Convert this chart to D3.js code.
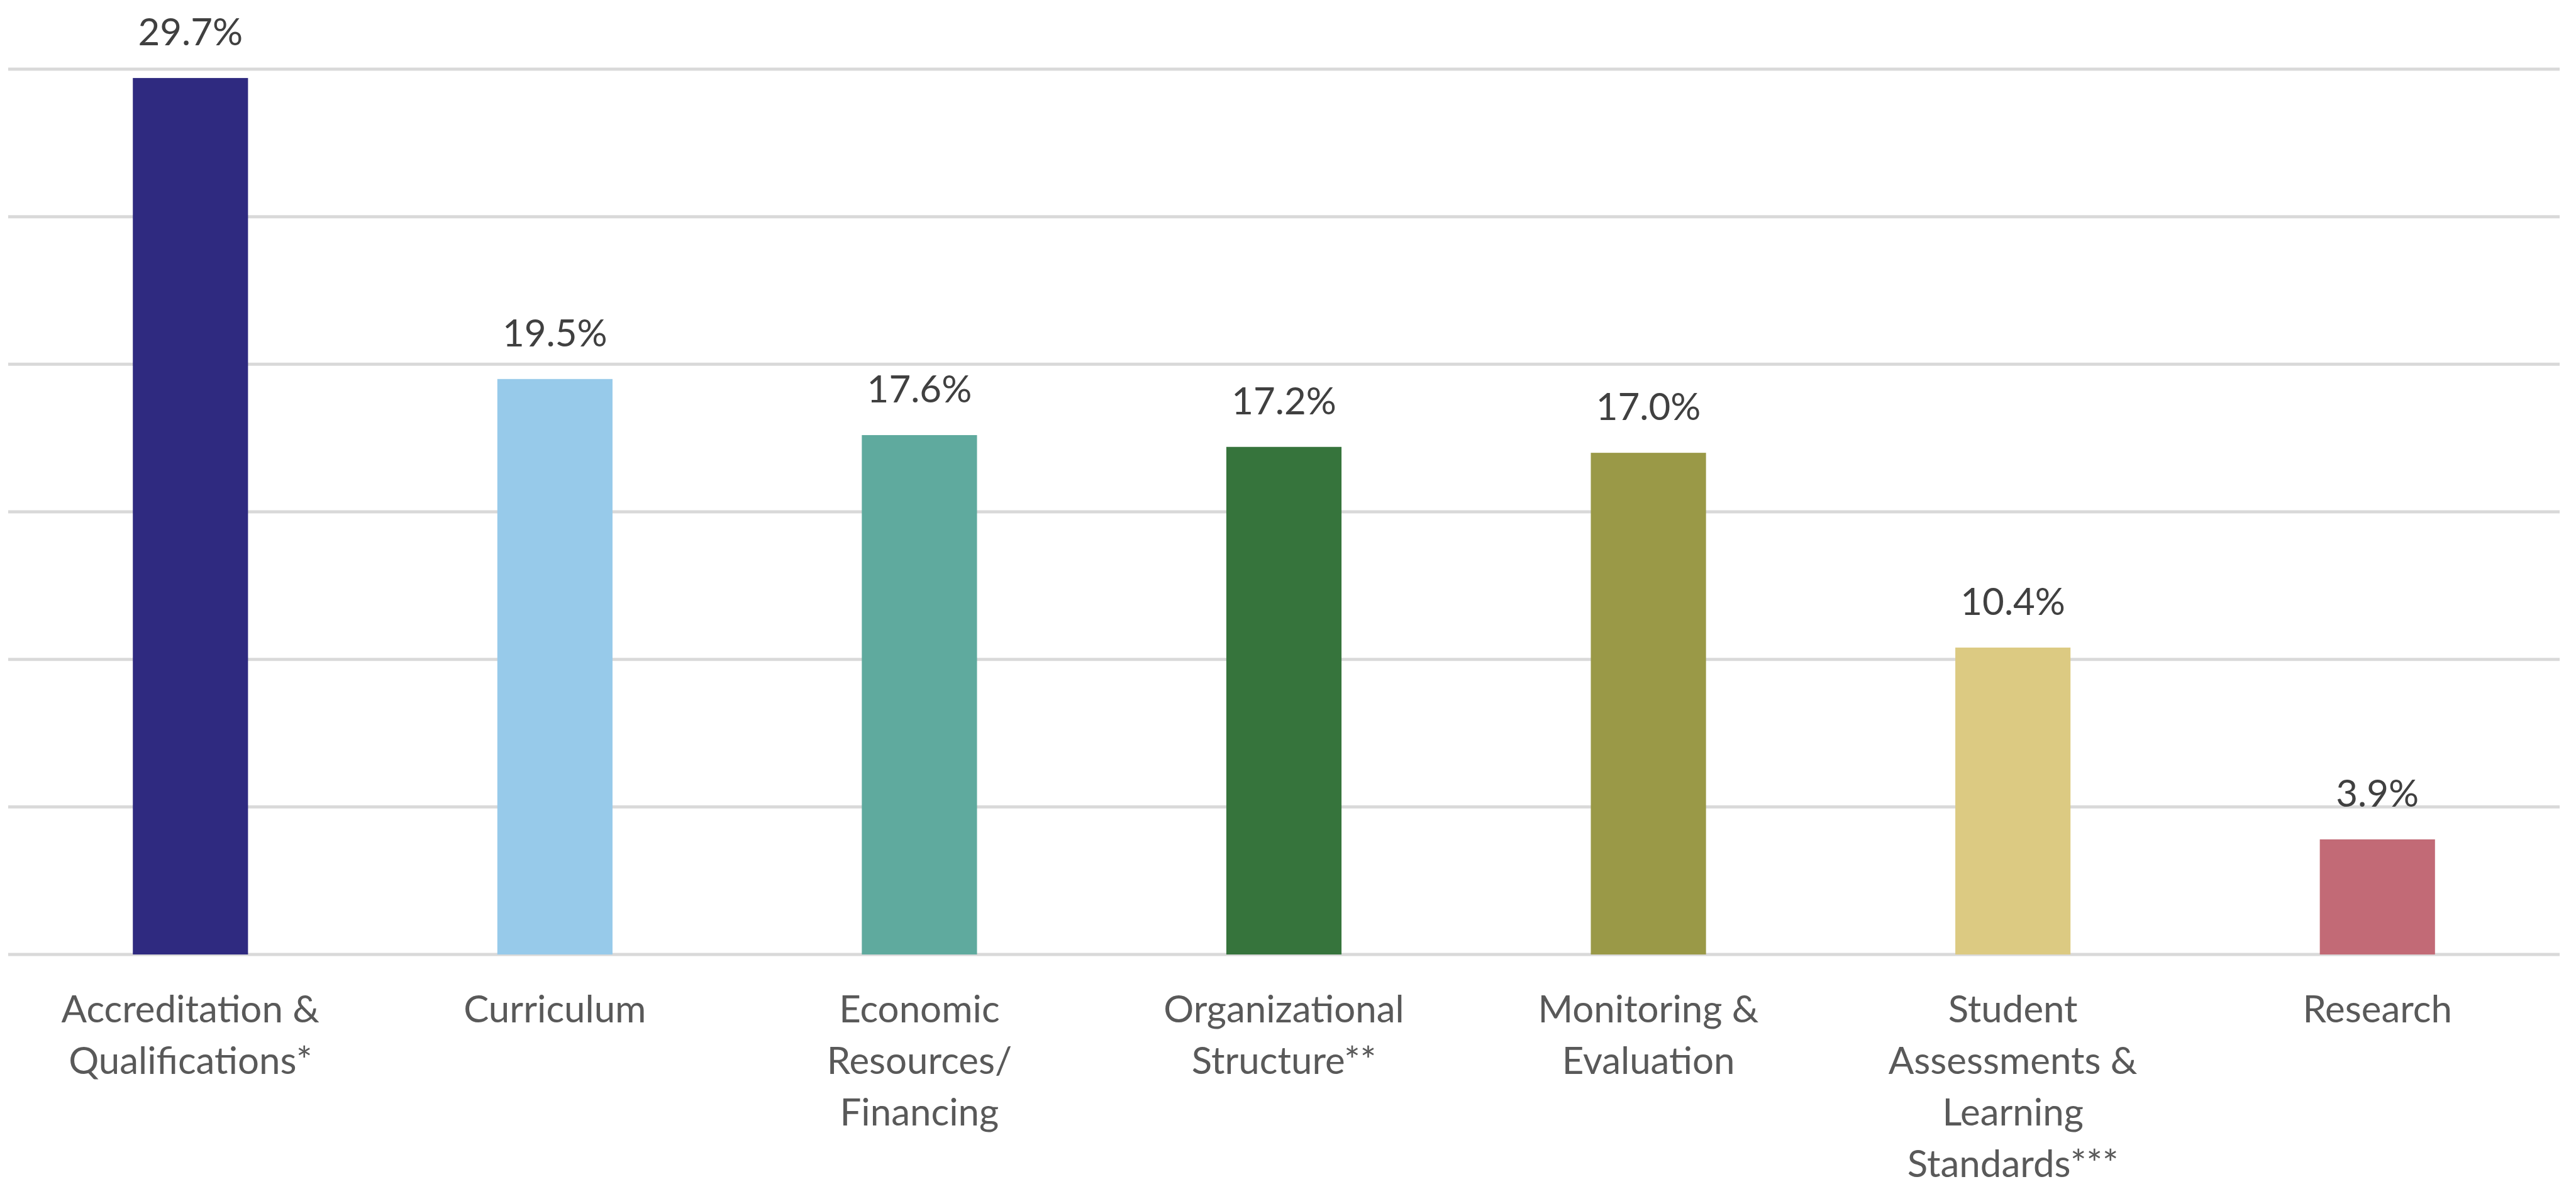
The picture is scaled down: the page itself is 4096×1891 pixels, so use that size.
<html>
<head>
<script src="https://d3js.org/d3.v7.min.js"></script>
<style>
  body { margin: 0; background: #fff; }
  svg { display: block; }
</style>
</head>
<body>
<svg id="chart" width="4096" height="1891"></svg>
<script>
// chart values
const categories = ["Accreditation & Qualifications*", "Curriculum", "Economic Resources/ Financing",
  "Organizational Structure**", "Monitoring & Evaluation",
  "Student Assessments & Learning Standards***", "Research"]
const labelLines = [
  ["Accreditation &", "Qualifications*"],
  ["Curriculum"],
  ["Economic", "Resources/", "Financing"],
  ["Organizational", "Structure**"],
  ["Monitoring &", "Evaluation"],
  ["Student", "Assessments &", "Learning", "Standards***"],
  ["Research"]
]
const values = [29.7, 19.5, 17.6, 17.2, 17.0, 10.4, 3.9]
const colors = ["#2F2A80", "#97CAEA", "#5FAA9E", "#36743C", "#9A9947", "#DCCA82", "#C26A76"]
const gridTicks = [0, 5, 10, 15, 20, 25, 30]

const plotLeft = 13, plotRight = 4070, plotTop = 110, plotBottom = 1518
const fontFam = "Lato, 'Open Sans', sans-serif"

const svg = d3.select("#chart")

var x = d3.scaleBand().domain(categories).range([plotLeft, plotRight])
  .paddingInner(0.684).paddingOuter(0.342)
var y = d3.scaleLinear().domain([0, 30]).range([plotBottom, plotTop])

// gridlines
svg.append("g")
  .selectAll("line").data(gridTicks).enter().append("line")
  .attr("x1", plotLeft).attr("x2", plotRight)
  .attr("y1", d => y(d)).attr("y2", d => y(d))
  .style("stroke", "#D9D9D9")
  .style("stroke-width", 5)

// bars
svg.append("g")
  .selectAll("rect").data(values).enter().append("rect")
  .attr("x", (d, i) => x(categories[i]))
  .attr("y", d => y(d))
  .attr("width", x.bandwidth())
  .attr("height", d => y(0) - y(d))
  .style("fill", (d, i) => colors[i])

// value labels
svg.append("g")
  .selectAll("text").data(values).enter().append("text")
  .attr("x", (d, i) => x(categories[i]) + x.bandwidth() / 2)
  .attr("y", d => y(d) - 52)
  .attr("text-anchor", "middle")
  .style("font-family", fontFam)
  .style("font-size", "60px")
  .style("fill", "#404040")
  .text(d => d.toFixed(1) + "%")

// category labels
var cat = svg.append("g")
  .selectAll("text").data(labelLines).enter().append("text")
  .attr("text-anchor", "middle")
  .style("font-family", fontFam)
  .style("font-size", "60px")
  .style("fill", "#595959")
cat.each(function(lines, i) {
  var cx = x(categories[i]) + x.bandwidth() / 2
  d3.select(this).selectAll("tspan").data(lines).enter().append("tspan")
    .attr("x", cx)
    .attr("y", (l, j) => 1626 + j * 82)
    .text(l => l)
})
</script>
</body>
</html>
